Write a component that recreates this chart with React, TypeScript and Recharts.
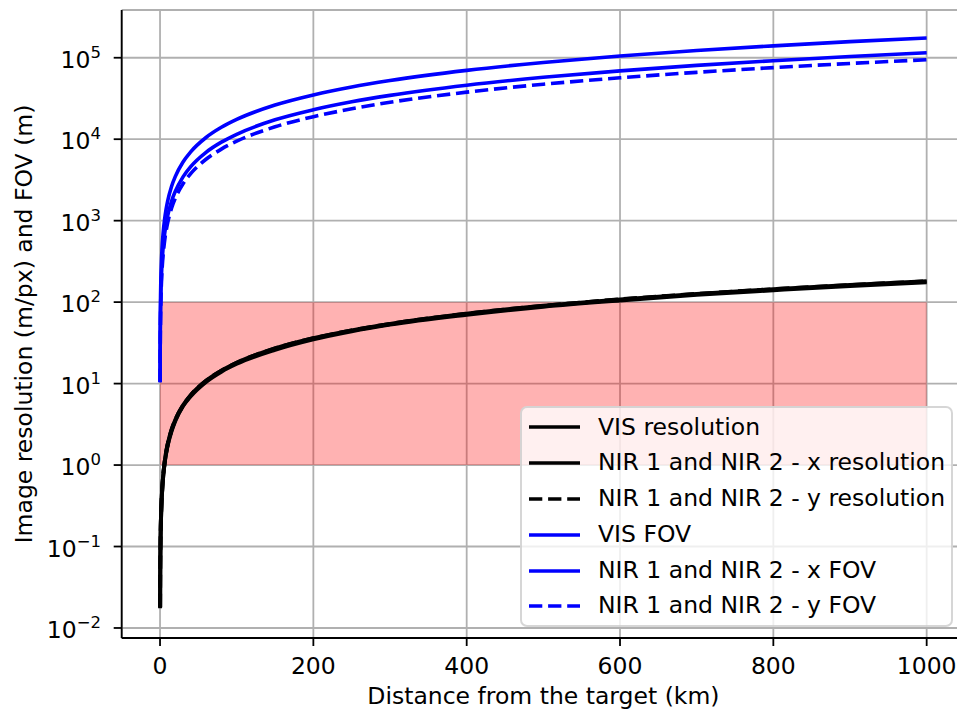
import React from 'react';
import {
  LineChart,
  Line,
  XAxis,
  YAxis,
  CartesianGrid,
  ReferenceArea,
  Legend,
} from 'recharts';

// distances (km), shared by all series after the first point
const DIST = [0.2, 0.4, 0.7, 1, 1.5, 2, 3, 4, 6, 8, 10, 15, 20, 30, 40, 60, 80, 100, 150, 200, 250, 300, 400, 500, 600, 700, 800, 900, 1000];

// first point of each curve (distance, value)
const VIS_RES_START = [0.1, 0.0175];
const NIR_X_RES_START = [0.1, 0.018];
const NIR_Y_RES_START = [0.1, 0.018];
const VIS_FOV_START = [0.06, 10.5];
const NIR_X_FOV_START = [0.09, 10.4];
const NIR_Y_FOV_START = [0.11, 10.4];

// m/px
const VIS_RES = [0.035, 0.07, 0.12, 0.175, 0.26, 0.35, 0.53, 0.7, 1.05, 1.4, 1.75, 2.6, 3.5, 5.3, 7, 10.5, 14, 17.5, 26, 35, 44, 53, 70, 88, 105, 123, 140, 158, 175];
const NIR_X_RES = [0.036, 0.072, 0.126, 0.18, 0.27, 0.36, 0.54, 0.72, 1.08, 1.44, 1.8, 2.7, 3.6, 5.4, 7.2, 10.8, 14.4, 18, 27, 36, 45, 54, 72, 90, 108, 126, 144, 162, 180];
const NIR_Y_RES = [0.036, 0.072, 0.126, 0.18, 0.27, 0.36, 0.54, 0.72, 1.08, 1.44, 1.8, 2.7, 3.6, 5.4, 7.2, 10.8, 14.4, 18, 27, 36, 45, 54, 72, 90, 108, 126, 144, 162, 180];

// m
const VIS_FOV = [35, 70, 123, 175, 263, 350, 525, 700, 1050, 1400, 1750, 2630, 3500, 5250, 7000, 10500, 14000, 17500, 26300, 35000, 43800, 52500, 70000, 87500, 105000, 122500, 140000, 157500, 175000];
const NIR_X_FOV = [23, 46, 80, 115, 173, 230, 345, 460, 690, 920, 1150, 1730, 2300, 3450, 4600, 6900, 9200, 11500, 17300, 23000, 28800, 34500, 46000, 57500, 69000, 80500, 92000, 103500, 115000];
const NIR_Y_FOV = [19, 38, 66, 94.5, 142, 189, 284, 378, 567, 756, 945, 1420, 1890, 2840, 3780, 5670, 7560, 9450, 14200, 18900, 23600, 28400, 37800, 47300, 56700, 66200, 75600, 85100, 94500];

const X_TICKS = [0, 200, 400, 600, 800, 1000];
const Y_TICKS = [0.01, 0.1, 1, 10, 100, 1000, 10000, 100000];

const X_DOMAIN = [-50, 1050];
const Y_DOMAIN = [Math.pow(10, -2.123), Math.pow(10, 5.586)];

const Y_MINOR: number[] = [];
[0.001, ...Y_TICKS].forEach((base) => {
  for (let m = 2; m <= 9; m++) {
    const v = base * m;
    if (v > Y_DOMAIN[0] && v < Y_DOMAIN[1]) Y_MINOR.push(v);
  }
});

const FONT = 'DejaVu Sans';
const FS = 23.5;

const build = (start: number[], values: number[]) => [
  { d: start[0], v: start[1] },
  ...DIST.map((d, i) => ({ d, v: values[i] })),
];

const SERIES = [
  { name: 'VIS resolution', data: build(VIS_RES_START, VIS_RES), color: '#000000', dash: undefined },
  { name: 'NIR 1 and NIR 2 - x resolution', data: build(NIR_X_RES_START, NIR_X_RES), color: '#000000', dash: undefined },
  { name: 'NIR 1 and NIR 2 - y resolution', data: build(NIR_Y_RES_START, NIR_Y_RES), color: '#000000', dash: '13.3 5.8' },
  { name: 'VIS FOV', data: build(VIS_FOV_START, VIS_FOV), color: '#0000ff', dash: undefined },
  { name: 'NIR 1 and NIR 2 - x FOV', data: build(NIR_X_FOV_START, NIR_X_FOV), color: '#0000ff', dash: undefined },
  { name: 'NIR 1 and NIR 2 - y FOV', data: build(NIR_Y_FOV_START, NIR_Y_FOV), color: '#0000ff', dash: '13.3 5.8' },
];

const LogTick = (props: any) => {
  const { x, y, payload } = props;
  const exp = Math.round(Math.log10(payload.value));
  const sup = exp < 0 ? '\u2212' + -exp : String(exp);
  return (
    <text x={x} y={y + 10} textAnchor="end" fontSize={FS} fill="#000" fontFamily={FONT}>
      <tspan>10</tspan>
      <tspan dy={-10} fontSize={16.5}>{sup}</tspan>
    </text>
  );
};

const XTitle = () => (
  <text x={543.4} y={704} textAnchor="middle" fontSize={FS} fill="#000" fontFamily={FONT}>
    Distance from the target (km)
  </text>
);

const YTitle = () => (
  <text x={31.7} y={324} transform="rotate(-90 31.7 324)" textAnchor="middle" fontSize={FS} fill="#000" fontFamily={FONT}>
    Image resolution (m/px) and FOV (m)
  </text>
);

const LegendBox = () => (
  <div
    style={{
      boxSizing: 'border-box',
      width: 433,
      height: 221,
      paddingTop: 1.5,
      paddingLeft: 7,
      border: '2px solid rgba(204,204,204,0.8)',
      borderRadius: 7,
      background: 'rgba(255,255,255,0.8)',
      fontFamily: FONT,
      fontSize: FS,
      color: '#000',
    }}
  >
    {SERIES.map((s) => (
      <div key={s.name} style={{ display: 'flex', alignItems: 'center', height: 35.8, lineHeight: '35.8px' }}>
        <svg width={51} height={10} style={{ marginRight: 18, flex: 'none' }}>
          <line x1={0} y1={5} x2={51} y2={5} stroke={s.color} strokeWidth={3.6} strokeDasharray={s.dash} />
        </svg>
        <span style={{ whiteSpace: 'nowrap' }}>{s.name}</span>
      </div>
    ))}
  </div>
);

export default function App() {
  return (
    <div
      style={{
        position: 'absolute',
        left: 0,
        top: 0,
        width: 957,
        height: 710,
        overflow: 'hidden',
        background: '#fff',
        fontFamily: FONT,
      }}
    >
      <LineChart width={967} height={710} margin={{ top: 10, right: 2, left: 0, bottom: 0 }}>
        <CartesianGrid stroke="#b0b0b0" strokeWidth={1.8} />
        <XAxis
          dataKey="d"
          type="number"
          domain={X_DOMAIN}
          allowDataOverflow
          ticks={X_TICKS}
          height={72}
          tickSize={8}
          tickMargin={11.5}
          tick={{ fontSize: FS, fill: '#000', fontFamily: FONT }}
          tickLine={{ stroke: '#000', strokeWidth: 1.8 }}
          axisLine={{ stroke: '#000', strokeWidth: 1.8 }}
          label={<XTitle />}
        />
        <XAxis
          xAxisId="top"
          orientation="top"
          type="number"
          domain={X_DOMAIN}
          allowDataOverflow
          height={0}
          tick={false}
          tickLine={false}
          axisLine={{ stroke: '#000', strokeWidth: 1.8 }}
        />
        <YAxis
          scale="log"
          type="number"
          domain={Y_DOMAIN}
          allowDataOverflow
          ticks={Y_TICKS}
          width={121.7}
          tickSize={8}
          tickMargin={12.7}
          tick={<LogTick />}
          tickLine={{ stroke: '#000', strokeWidth: 1.8 }}
          axisLine={{ stroke: '#000', strokeWidth: 1.8 }}
          label={<YTitle />}
          interval={0}
        />
        <YAxis
          yAxisId="minor"
          scale="log"
          type="number"
          domain={Y_DOMAIN}
          allowDataOverflow
          ticks={Y_MINOR}
          width={0}
          tickSize={4.6}
          tick={false}
          tickLine={{ stroke: '#000', strokeWidth: 1.3 }}
          axisLine={false}
          interval={0}
        />
        <ReferenceArea x1={0} x2={1000} y1={1} y2={100} fill="#ff0000" fillOpacity={0.3} stroke="none" />
        {SERIES.map((s) => (
          <Line
            key={s.name}
            name={s.name}
            data={s.data}
            dataKey="v"
            type="monotone"
            stroke={s.color}
            strokeWidth={s.color === '#000000' ? 4 : 3.6}
            strokeDasharray={s.dash}
            dot={false}
            activeDot={false}
            isAnimationActive={false}
          />
        ))}
        <Legend
          layout="vertical"
          align="center"
          verticalAlign="middle"
          content={<LegendBox />}
          wrapperStyle={{ position: 'absolute', left: 520, top: 406, width: 433, height: 221 }}
        />
      </LineChart>
    </div>
  );
}
